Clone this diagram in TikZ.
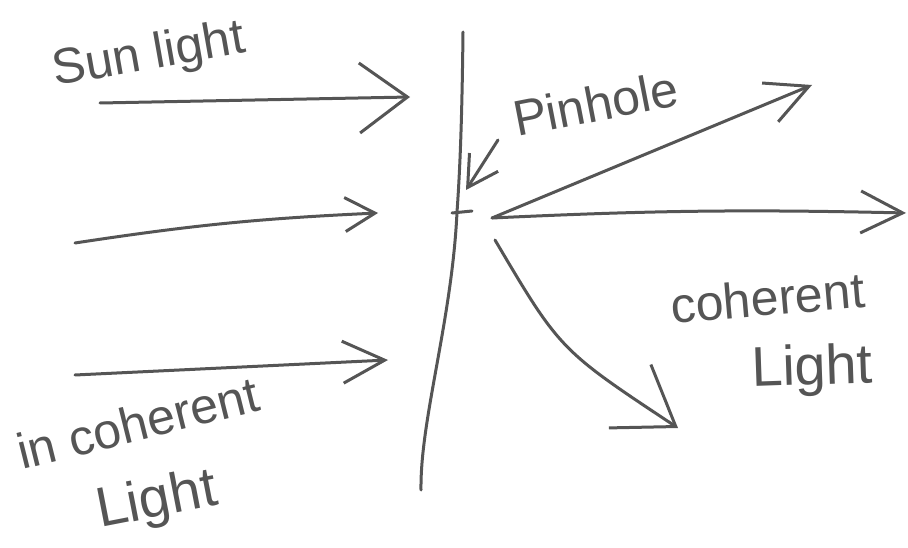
\documentclass[tikz,border=0pt]{standalone}
\usepackage{fontspec}
\setmainfont{Liberation Sans}
\usetikzlibrary{arrows.meta}
\definecolor{ink}{HTML}{555555}
\begin{document}
\begin{tikzpicture}[x=1pt,y=-1pt,
  pen/.style={draw=ink,line width=3pt,line cap=round,line join=round},
  bigbarb/.style={-{Straight Barb[length=48pt,width=70pt,line width=3pt]}},
  midbarb/.style={-{Straight Barb[length=42pt,width=42pt,line width=3pt]}},
  smallbarb/.style={-{Straight Barb[length=30pt,width=34pt,line width=3pt]}},
  lbl/.style={text=ink,anchor=base west,inner sep=0pt,font=\fontsize{50}{56}\selectfont},
  lblbig/.style={lbl,font=\fontsize{56}{62}\selectfont}]
\useasboundingbox (0,0) rectangle (908,548);
% screen
\coordinate (st) at (463,32);
\coordinate (sm) at (457,212);
\coordinate (sb) at (421,490);
\draw[pen] (st) .. controls (462,120) and (460,170) .. (sm) .. controls (452,320) and (420,420) .. (sb);
% pinhole
\coordinate (ph1) at (452,213);
\coordinate (ph2) at (472,211);
\draw[pen] (ph1) -- (ph2);
% incoming light
\coordinate (a1s) at (100,103);
\coordinate (a1e) at (410,97);
\coordinate (a2s) at (75,243);
\coordinate (a2e) at (378,213);
\coordinate (a3s) at (75,375);
\coordinate (a3e) at (388,360);
\draw[pen,bigbarb] (a1s) -- (a1e);
\draw[pen,smallbarb] (a2s) to[bend left=3] (a2e);
\draw[pen,midbarb] (a3s) -- (a3e);
% outgoing light
\coordinate (o) at (492,218);
\coordinate (b1e) at (812,85);
\coordinate (b2e) at (906,213);
\coordinate (b3s) at (495,240);
\coordinate (b3e) at (678,428);
\draw[pen,midbarb] (o) -- (b1e);
\draw[pen,midbarb] (o) to[bend left=2] (b2e);
\draw[pen,-{Straight Barb[length=55pt,width=76pt,line width=3pt]}] (b3s) .. controls (560,350) .. (b3e);
% pinhole pointer
\coordinate (pps) at (498,140);
\coordinate (ppe) at (466,190);
\draw[pen,smallbarb] (pps) -- (ppe);
% labels
\node[lbl,rotate=10] (sun) at (55,86) {Sun light};
\node[lbl,rotate=11] (pin) at (517,137) {Pinhole};
\node[lbl,rotate=14] (inc) at (22,470) {in coherent};
\node[lblbig,rotate=11] (l1) at (100,528) {Light};
\node[lbl,rotate=5] (coh) at (672,324) {coherent};
\node[lblbig,rotate=2] (l2) at (752,387) {Light};
\end{tikzpicture}
\end{document}
